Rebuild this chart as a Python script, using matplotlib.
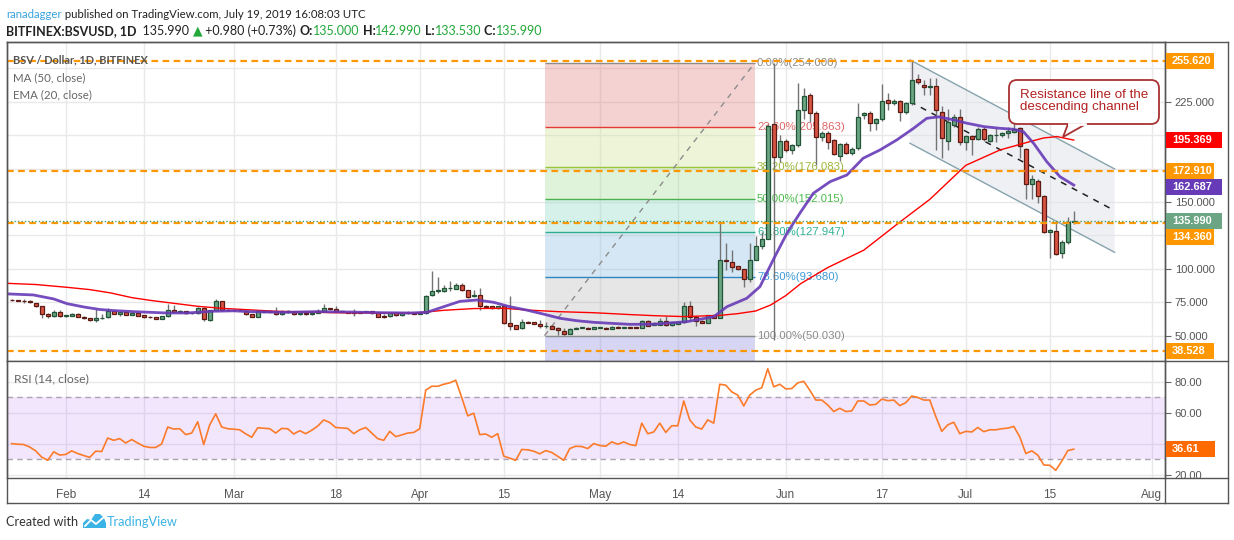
import matplotlib
matplotlib.use('Agg')
import matplotlib.pyplot as plt
from matplotlib.patches import Rectangle, FancyBboxPatch, Polygon
from matplotlib.lines import Line2D
from matplotlib.transforms import IdentityTransform

# ---------------- data (day index: 0 = 2019-02-01) ----------------
start_day = -9
opens = [
    77.0, 76.5, 76.2, 75.8, 74.2, 72.0, 66.3, 64.5, 67.5,
    64.8, 64.8, 66.5, 64.0, 63.2, 61.5, 63.0, 63.8, 68.3, 66.5,
    67.5, 65.8, 67.0, 65.2, 64.2, 63.8, 62.8, 64.5, 69.3, 67.8,
    68.3, 66.8, 66.8, 70.5, 61.5, 69.0, 75.8, 69.3, 69.0, 69.1,
    68.3, 66.2, 64.2, 68.0, 68.0, 68.0, 66.0, 67.8, 67.5, 66.0,
    67.0, 66.0, 67.0, 68.5, 70.2, 70.2, 68.2, 67.5, 67.3, 67.3,
    67.5, 68.3, 66.8, 64.5, 64.5, 67.0, 65.3, 66.8, 66.9, 66.3,
    66.8, 80.2, 83.8, 83.2, 85.5, 85.2, 87.9, 84.0, 79.5, 80.5,
    72.2, 72.0, 70.5, 72.2, 59.5, 57.7, 55.5, 60.2, 60.0, 59.0,
    57.0, 57.5, 56.0, 53.2, 51.3, 55.0, 56.0, 56.0, 55.0, 56.0,
    56.0, 55.0, 56.8, 56.0, 56.5, 56.5, 55.8, 61.2, 58.0, 58.2,
    60.7, 57.8, 59.0, 60.0, 72.0, 64.3, 61.2, 59.8, 65.2, 63.5,
    106.4, 104.8, 101.8, 99.6, 92.8, 107.0, 117.0, 122.7, 208.7, 183.5,
    196.0, 189.0, 192.7, 218.8, 230.2, 216.5, 198.5, 202.0, 196.5, 184.5,
    193.5, 187.0, 190.3, 215.5, 216.3, 209.0, 212.2, 226.3, 224.0, 225.5,
    217.5, 224.0, 241.9, 237.6, 236.4, 237.1, 217.5, 195.7, 207.7, 214.0,
    195.2, 199.5, 197.5, 204.5, 195.7, 200.0, 200.0, 202.0, 202.3, 205.2,
    189.5, 163.5, 166.0, 154.8, 127.6, 128.6, 111.7, 120.4, 135.0,
]
highs = [
    77.8, 77.0, 77.5, 76.5, 74.8, 72.3, 66.8, 69.0, 69.0,
    65.8, 67.0, 67.0, 64.5, 63.5, 70.0, 66.0, 71.0, 68.8, 67.8,
    67.8, 67.3, 67.3, 65.5, 64.5, 64.0, 64.8, 74.0, 73.0, 69.0,
    68.8, 67.8, 71.5, 71.2, 69.5, 77.5, 76.3, 70.0, 69.5, 69.8,
    68.8, 66.5, 68.8, 68.8, 68.5, 71.5, 69.5, 69.5, 67.8, 67.3,
    67.3, 67.3, 70.0, 74.0, 71.0, 72.0, 68.6, 68.0, 70.0, 67.6,
    68.6, 68.6, 67.0, 66.0, 67.3, 67.3, 67.3, 68.7, 67.2, 67.5,
    80.5, 98.4, 94.0, 88.0, 91.0, 89.5, 89.5, 84.5, 84.0, 86.0,
    73.0, 72.5, 72.4, 72.8, 79.7, 58.2, 62.5, 61.0, 60.4, 61.5,
    60.0, 58.0, 56.5, 56.0, 55.8, 56.5, 56.6, 56.4, 56.8, 56.6,
    56.3, 57.0, 57.2, 56.6, 56.8, 56.8, 61.8, 61.6, 60.0, 63.5,
    64.5, 60.5, 60.4, 75.0, 76.0, 64.8, 61.6, 65.8, 65.6, 136.1,
    119.6, 114.0, 102.5, 100.2, 119.2, 124.6, 127.8, 208.5, 254.0, 200.2,
    197.5, 193.5, 238.8, 235.6, 232.0, 218.0, 203.0, 203.0, 197.5, 194.0,
    195.0, 191.5, 224.0, 217.5, 218.0, 213.0, 238.0, 232.0, 227.0, 226.5,
    225.0, 255.6, 246.0, 241.5, 243.0, 243.0, 222.0, 219.5, 216.0, 219.4,
    200.5, 200.0, 206.5, 206.5, 201.0, 205.2, 202.5, 206.0, 215.0, 206.0,
    190.5, 170.5, 167.5, 155.5, 130.0, 134.2, 121.5, 138.8, 142.99,
]
lows = [
    76.0, 75.8, 74.8, 74.8, 71.8, 63.5, 63.0, 64.0, 64.0,
    64.2, 64.5, 63.8, 62.8, 61.2, 60.0, 62.5, 63.5, 66.2, 65.0,
    65.5, 65.5, 64.8, 63.5, 63.5, 62.5, 62.5, 64.2, 67.5, 67.5,
    66.5, 66.5, 66.5, 61.0, 61.0, 68.5, 68.5, 68.5, 68.5, 68.6,
    65.8, 64.0, 64.0, 67.5, 67.5, 65.8, 65.8, 67.3, 65.8, 65.8,
    65.8, 65.8, 66.8, 68.3, 69.5, 68.3, 67.8, 67.0, 65.0, 66.7,
    67.3, 66.5, 63.8, 63.5, 64.3, 65.0, 65.0, 66.5, 66.0, 66.0,
    66.5, 79.5, 82.0, 82.8, 83.5, 84.8, 83.3, 78.2, 79.0, 69.5,
    71.2, 70.2, 70.2, 59.0, 54.0, 54.8, 55.2, 59.5, 58.8, 55.5,
    55.5, 55.0, 50.5, 50.5, 51.0, 54.8, 55.6, 54.8, 54.8, 55.7,
    54.8, 54.8, 55.8, 55.7, 55.8, 55.8, 55.5, 57.2, 57.8, 58.0,
    57.5, 57.5, 58.8, 59.8, 61.0, 57.0, 59.5, 59.5, 63.2, 63.2,
    99.0, 97.9, 99.0, 86.2, 90.4, 106.5, 115.0, 122.0, 47.0, 180.0,
    187.5, 186.0, 191.5, 212.0, 210.0, 177.8, 196.0, 190.0, 185.0, 181.0,
    186.0, 185.5, 189.0, 212.0, 203.0, 204.0, 211.0, 219.0, 222.5, 210.5,
    216.0, 223.0, 238.5, 230.2, 230.0, 189.0, 182.8, 189.0, 206.0, 193.0,
    189.0, 185.3, 196.5, 196.0, 195.0, 195.2, 198.5, 198.0, 201.5, 182.8,
    152.1, 152.0, 149.0, 127.0, 108.0, 110.5, 108.3, 118.5, 133.53,
]
closes = [
    76.5, 76.0, 75.8, 75.0, 72.0, 66.0, 64.5, 67.5, 64.5,
    65.3, 66.5, 64.0, 63.0, 61.5, 63.0, 63.3, 68.3, 66.5, 67.5,
    65.8, 67.0, 65.0, 63.8, 63.8, 62.8, 64.5, 69.3, 67.8, 68.3,
    66.8, 67.2, 71.0, 62.3, 69.0, 75.8, 69.0, 69.0, 69.1, 69.0,
    66.0, 64.2, 68.3, 68.2, 67.8, 66.0, 67.5, 68.0, 66.0, 67.0,
    66.0, 67.0, 68.7, 70.7, 70.0, 68.5, 68.0, 67.3, 67.0, 67.0,
    68.3, 66.8, 64.2, 64.3, 67.0, 65.3, 67.0, 66.9, 66.3, 67.0,
    79.5, 83.2, 84.2, 85.5, 85.8, 87.7, 84.3, 78.7, 80.5, 72.0,
    71.8, 70.5, 72.0, 59.3, 57.5, 55.0, 60.2, 59.8, 59.0, 57.0,
    57.5, 55.3, 54.5, 51.3, 55.3, 56.0, 56.2, 55.0, 56.5, 56.2,
    55.0, 56.8, 56.0, 56.2, 56.0, 56.0, 61.2, 57.5, 59.5, 60.7,
    57.8, 60.0, 60.0, 72.0, 64.3, 61.2, 59.8, 65.2, 63.5, 106.4,
    105.6, 101.1, 99.6, 92.8, 106.4, 117.0, 122.7, 206.7, 183.5, 196.0,
    189.0, 192.5, 218.8, 229.4, 216.5, 198.5, 202.0, 195.2, 186.0, 193.3,
    187.0, 190.0, 214.0, 216.3, 209.5, 212.2, 225.5, 224.0, 225.5, 217.5,
    224.0, 241.4, 239.7, 236.1, 236.9, 218.9, 197.7, 209.7, 214.0, 195.2,
    199.5, 197.0, 204.5, 197.0, 200.0, 200.5, 201.6, 203.0, 205.0, 192.0,
    163.5, 167.0, 154.6, 127.8, 129.1, 111.2, 119.9, 135.0, 135.99,
]

ma50_days = [-9.8, -5, 0, 4, 7.5, 11, 14, 17, 22, 26, 30, 35, 40, 45, 52, 58, 63, 68, 73, 77,
             82, 88, 94, 98, 103, 109, 112, 115, 117.5, 120, 122.5, 127, 133, 139, 144, 150,
             155.7, 161.3, 163, 165.2, 168]
ma50_vals = [89.2, 88.3, 86.3, 84.5, 82.0, 78.5, 76.5, 74.8, 72.0, 70.5, 69.5, 68.3, 67.7, 67.2,
             67.0, 66.8, 69.0, 70.3, 70.5, 69.2, 68.0, 67.2, 65.8, 65.0, 64.3, 65.2, 66.5, 68.5,
             73.0, 80.0, 89.0, 101.0, 114.0, 135.0, 152.0, 177.5, 189.0, 196.0, 198.0, 199.0, 196.4]

ema20_days = [-9.8, -5.4, -2, 0.2, 3, 5.7, 8, 11.3, 16.8, 20.2, 24.6, 28, 30.7, 36.3, 41.8, 47.4,
              52.9, 57.4, 60.2, 63, 65.7, 68.5, 71.3, 74, 76.8, 79.6, 82.4, 85.2, 88, 90.7, 94,
              98, 103.5, 108, 110.2, 113.5, 115.7, 117.9, 120.2, 122.4, 124.6, 127.4, 130.2,
              132.9, 135.7, 138.5, 141.3, 143.5, 145.5, 148, 150.2, 153, 155.7, 157.9, 159.6,
              161.3, 163.5, 165.7, 168]
ema20_vals = [81.3, 80.5, 77.5, 74.0, 71.5, 69.6, 68.8, 68.0, 67.0, 67.0, 68.3, 68.6, 68.0, 67.5,
              68.0, 67.7, 67.2, 67.0, 67.5, 71.7, 75.7, 76.7, 75.0, 71.7, 69.2, 66.2, 63.0, 61.2,
              60.0, 59.3, 58.5, 58.6, 60.5, 64.2, 71.7, 78.0, 86.7, 106.7, 126.7, 142.0, 156.6,
              165.3, 170.3, 182.8, 189.0, 196.5, 205.2, 212.7, 213.8, 211.5, 209.0, 206.5, 205.2,
              204.5, 202.7, 194.0, 180.2, 169.0, 162.7]

rsi_vals = [
    40.2, 39.8, 39.6, 38.0, 35.5, 31.5, 29.4, 34.9, 32.8,
    33.2, 35.5, 33.8, 32.5, 31.3, 35.3, 35.1, 43.8, 42.3, 43.4,
    40.6, 42.8, 40.6, 38.5, 37.7, 37.7, 40.0, 50.9, 49.6, 49.8,
    46.0, 47.0, 54.3, 39.6, 52.3, 59.4, 50.9, 49.8, 49.5, 49.1,
    46.5, 44.3, 50.4, 50.1, 49.8, 47.0, 50.0, 49.8, 46.4, 48.5,
    46.6, 48.8, 51.5, 55.5, 53.8, 50.6, 50.3, 50.0, 46.6, 49.1,
    50.6, 47.0, 43.4, 42.3, 48.1, 44.7, 45.8, 47.0, 47.4, 49.8,
    74.7, 77.2, 77.2, 78.5, 79.4, 81.1, 70.0, 58.1, 59.8, 46.0,
    46.4, 44.3, 46.6, 32.1, 30.8, 29.4, 36.4, 36.2, 35.3, 33.6,
    35.7, 34.5, 32.0, 29.4, 37.0, 38.5, 38.3, 37.0, 40.2, 39.0,
    38.5, 41.3, 39.8, 41.3, 39.6, 38.9, 53.4, 46.6, 47.7, 53.4,
    47.4, 51.7, 51.7, 67.7, 55.5, 50.9, 49.6, 55.5, 53.4, 78.5,
    77.9, 73.6, 71.5, 64.5, 71.5, 74.7, 76.2, 88.5, 76.8, 78.5,
    75.5, 75.7, 79.4, 80.4, 74.7, 68.3, 68.3, 65.1, 60.9, 63.0,
    60.9, 61.3, 67.7, 67.7, 65.1, 65.5, 68.9, 67.9, 68.3, 64.7,
    66.6, 70.9, 70.0, 68.3, 68.3, 57.7, 48.1, 52.3, 54.0, 46.6,
    48.1, 47.7, 50.6, 47.9, 49.1, 49.1, 49.8, 50.2, 51.3, 44.5,
    33.8, 35.5, 32.8, 26.4, 26.2, 23.0, 28.9, 35.7, 36.61,
]

tick_days = [0, 13, 28, 45, 59, 73, 89, 102, 120, 136, 150, 164, 181]
tick_labels = ['Feb', '14', 'Mar', '18', 'Apr', '15', 'May', '14', 'Jun', '17', 'Jul', '15', 'Aug']
price_ticks = [50, 75, 100, 125, 150, 175, 200, 225, 250]
rsi_ticks = [20, 40, 60, 80]

fib_levels = [254.0, 205.863, 176.083, 152.015, 127.947, 93.68, 50.03]
fib_names = ['0.00%', '23.60%', '38.20%', '50.00%', '61.80%', '78.60%', '100.00%']
fib_start, fib_end = 79.8, 114.8

hlines_orange = [255.62, 172.91, 134.36, 38.528]
last_close = 135.99
ma50_last, ema20_last = 195.369, 162.687
rsi_last = 36.61

chan_x = [140.7, 174.8]
chan_upper = [256.4, 174.8]
chan_lower = [194.0, 112.4]

days = list(range(start_day, start_day + len(opens)))

# ---------------- figure ----------------
W, H = 1234, 540
fig = plt.figure(figsize=(W / 100, H / 100), dpi=100)
fig.patch.set_facecolor('white')
IT = IdentityTransform()

L, R, T, MB, RB = 7, 1165, 42, 361, 478
ax = fig.add_axes([L / W, 1 - MB / H, (R - L) / W, (MB - T) / H])
axr = fig.add_axes([L / W, 1 - RB / H, (R - L) / W, (RB - MB) / H])

XMIN, XMAX = -9.78, 183.2
for a in (ax, axr):
    a.set_xlim(XMIN, XMAX)
    a.set_xticks(tick_days)
    a.grid(True, color='#e9e9e9', lw=1)
    a.set_axisbelow(True)
    a.tick_params(axis='x', length=0)
    a.yaxis.tick_right()
    a.tick_params(axis='y', length=4, color='#666', labelcolor='#555', labelsize=8, pad=3)
    for s in a.spines.values():
        s.set_color('#555555')
        s.set_linewidth(1.0)

ax.set_ylim(31.06, 269.8)
axr.set_ylim(18.0, 93.5)
ax.set_xticklabels([])
axr.set_xticklabels(tick_labels, color='#555', fontsize=8.5, family='Liberation Sans')
axr.tick_params(axis='x', pad=8)
ax.set_yticks(price_ticks)
axr.set_yticks(rsi_ticks)


def tint(hexc, a):
    hexc = hexc.lstrip('#')
    t = [int(hexc[i:i + 2], 16) for i in (0, 2, 4)]
    base = [max(0, min(255, 255 - (255 - c) / a)) / 255 for c in t]
    return (base[0], base[1], base[2], a)


# ---------------- fib retracement ----------------
fib_fill = ['#f4d2d2', '#eef5d8', '#e0f3da', '#d6f1ea', '#d5e8f4', '#e6e6e6']
fib_line = ['#8c8c8c', '#e53935', '#9bc53d', '#4caf50', '#2fae8f', '#2e86c1', '#8c8c8c']
fib_txt = ['#8c8c8c', '#e06666', '#9ab83a', '#4cbb4c', '#2fb396', '#3d9ad6', '#8c8c8c']
for i in range(len(fib_levels) - 1):
    ax.add_patch(Rectangle((fib_start, fib_levels[i + 1]), fib_end - fib_start,
                           fib_levels[i] - fib_levels[i + 1], fc=tint(fib_fill[i], 0.35),
                           ec='none', zorder=1))
ax.add_patch(Rectangle((fib_start, 20), fib_end - fib_start, fib_levels[-1] - 20,
                       fc=tint('#d6d6f4', 0.35), ec='none', zorder=1))
for lvl, nm, lc, tc in zip(fib_levels, fib_names, fib_line, fib_txt):
    ax.hlines(lvl, fib_start, fib_end, color=lc, lw=1, zorder=1.5)
    ax.text(fib_end + 0.4, lvl, f'{nm}({lvl:.3f})', color=tc, fontsize=8.2,
            family='Liberation Sans', va='center', ha='left', zorder=2)
ax.plot([fib_start, fib_end], [fib_levels[-1], fib_levels[0]], color='#8c8c8c',
        lw=1, ls=(0, (4, 4)), zorder=1.6)

# ---------------- channel ----------------
ax.add_patch(Polygon([(chan_x[0], chan_upper[0]), (chan_x[1], chan_upper[1]),
                      (chan_x[1], chan_lower[1]), (chan_x[0], chan_lower[0])],
                     closed=True, fc=tint('#eff1f4', 0.5), ec='none', zorder=1))
ax.plot(chan_x, chan_upper, color='#86a3ad', lw=1, zorder=2)
ax.plot(chan_x, chan_lower, color='#86a3ad', lw=1, zorder=2)
ax.plot(chan_x, [(u + l) / 2 for u, l in zip(chan_upper, chan_lower)], color='#222222',
        lw=1.1, ls=(0, (4, 4)), zorder=2)

# ---------------- candles ----------------
up = [c >= o for o, c in zip(opens, closes)]
bottoms = [min(o, c) for o, c in zip(opens, closes)]
heights = [max(abs(c - o), 0.45) for o, c in zip(opens, closes)]
faces = ['#6ba583' if u else '#d75442' for u in up]
edges = ['#225437' if u else '#5b1a13' for u in up]
ax.vlines(days, lows, highs, color='#737375', lw=1, zorder=3)
ax.bar(days, heights, bottom=bottoms, width=0.7, color=faces, edgecolor=edges,
       linewidth=0.9, zorder=4)

ax.plot(ma50_days, ma50_vals, color='#ff0000', lw=1, zorder=5)
ax.plot(ema20_days, ema20_vals, color='#673ab7', lw=2, zorder=5, alpha=0.9)

for v in hlines_orange:
    ax.axhline(v, color='#ff9800', lw=1.6, ls=(0, (3, 2)), zorder=6)
ax.axhline(last_close, color='#4a9d6b', lw=1, ls=(0, (1, 1.5)), zorder=6)

# ---------------- RSI ----------------
axr.axhspan(30, 70, color=(0.6, 0.2, 0.95), alpha=0.12, lw=0, zorder=1)
for v in (30, 70):
    axr.axhline(v, color='#aaa3b0', lw=1, ls=(0, (4, 3)), zorder=2)
axr.plot(days, rsi_vals, color='#fb7b2a', lw=1.2, zorder=3)

# ---------------- frame lines ----------------
def pline(x0, y0, x1, y1, c='#555555', lw=1.0):
    fig.add_artist(Line2D([x0, x1], [H - y0, H - y1], transform=IT, color=c, lw=lw))

pline(L, T, 1228, T)
pline(1228, T, 1228, 503)
pline(L, 503, 1228, 503)
pline(L, T, L, 503)
pline(R, T, R, 503)
pline(R, MB, 1228, MB)
pline(R, RB, 1228, RB)

# ---------------- price labels (stacked like the price scale does) ----------------
BOX_H = 16
main_labels = [
    (255.62, '255.620', '#ff9800', 48),
    (ma50_vals[-1], f'{ma50_last:.3f}', '#ff0000', 56),
    (172.91, '172.910', '#ff9800', 48),
    (ema20_last, f'{ema20_last:.3f}', '#673ab7', 56),
    (last_close, f'{last_close:.3f}', '#6ba583', 56),
    (134.36, '134.360', '#ff9800', 48),
    (38.528, '38.528', '#ff9800', 48),
]


def draw_label(yd, text, fc, w):
    fig.add_artist(Rectangle((R + 1, yd - BOX_H / 2), w, BOX_H, transform=IT, fc=fc,
                             ec='none', zorder=20))
    fig.text((R + 7) / W, yd / H, text, color='white', fontsize=7.9, fontweight='bold',
             family='Liberation Sans', va='center', ha='left', zorder=21)


box_ys = []
prev_y = None
for val, text, fc, w in main_labels:
    yd = ax.transData.transform((0, val))[1]
    if prev_y is not None and prev_y - yd < BOX_H:
        yd = prev_y - BOX_H
    draw_label(yd, text, fc, w)
    box_ys.append(yd)
    prev_y = yd

rsi_box_y = axr.transData.transform((0, rsi_last))[1]
draw_label(rsi_box_y, f'{rsi_last:.2f}', '#ff6a00', 49)


def tick_texts(a, ticks, fmt, covers):
    out = []
    for v in ticks:
        yd = a.transData.transform((0, v))[1]
        hidden = any(abs(yd - c) < BOX_H / 2 + 5 for c in covers)
        out.append('' if hidden else fmt.format(v))
    return out


ax.set_yticklabels(tick_texts(ax, price_ticks, '{:.3f}', box_ys), family='Liberation Sans')
axr.set_yticklabels(tick_texts(axr, rsi_ticks, '{:.2f}', [rsi_box_y]), family='Liberation Sans')

# ---------------- callout ----------------
bx0, by0, bx1, by1 = 1009, 80, 1159, 124
dark_red = '#a83232'
fig.add_artist(FancyBboxPatch((bx0, H - by1), bx1 - bx0, by1 - by0,
                              boxstyle='round,pad=0,rounding_size=8', transform=IT,
                              fc='white', ec=dark_red, lw=1.3, zorder=10))
tail = [(1068, H - by1), (1063, H - 137), (1086, H - by1)]
fig.add_artist(Polygon(tail, closed=False, transform=IT, fc='white', ec=dark_red, lw=1.3, zorder=11))
fig.add_artist(Line2D([1069, 1085], [H - by1, H - by1], transform=IT, color='white', lw=2, zorder=12))
fig.text(1020 / W, 1 - 101 / H, 'Resistance line of the\ndescending channel', color='#b22222',
         fontsize=9.6, family='Liberation Sans', va='center', ha='left', linespacing=1.0, zorder=13)

# ---------------- texts ----------------
UI = ['Lato', 'DejaVu Sans']
ax.text(0.005, 1 - (60 - T) / (MB - T), 'BSV / Dollar, 1D, BITFINEX', transform=ax.transAxes,
        color='#555', fontsize=7.9, fontweight='bold', family=UI, va='center', zorder=8)
ax.text(0.005, 1 - (78 - T) / (MB - T), 'MA (50, close)', transform=ax.transAxes,
        color='#666', fontsize=8.3, family=UI, va='center', zorder=8)
ax.text(0.005, 1 - (95 - T) / (MB - T), 'EMA (20, close)', transform=ax.transAxes,
        color='#666', fontsize=8.3, family=UI, va='center', zorder=8)
axr.text(0.006, 1 - (379 - MB) / (RB - MB), 'RSI (14, close)', transform=axr.transAxes,
         color='#666', fontsize=8.8, family=UI, va='center', zorder=8)


def chain(parts, x, y, size):
    prev = None
    for txt, color, weight in parts:
        fam = UI if txt != '▲' else ['DejaVu Sans']
        if prev is None:
            prev = fig.text(x / W, 1 - y / H, txt, color=color, fontsize=size, fontweight=weight,
                            family=fam, va='bottom', ha='left')
        else:
            prev = ax.annotate(txt, xy=(1, 0), xycoords=prev, color=color, fontsize=size,
                               fontweight=weight, family=fam, va='bottom', ha='left',
                               annotation_clip=False)

G = '#22a83a'
chain([('ranadagger', '#3aa3dc', 'normal'),
       (' published on TradingView.com, July 19, 2019 16:08:03 UTC', '#222', 'normal')], 6, 20, 8.2)
chain([('BITFINEX:BSVUSD, 1D', '#222', 'bold'), ('  135.990 ', '#222', 'normal'),
       ('▲', G, 'normal'), (' +0.980 (+0.73%) ', '#222', 'normal'),
       ('O:', '#222', 'bold'), ('135.000', G, 'normal'), (' H:', '#222', 'bold'),
       ('142.990', G, 'normal'), (' L:', '#222', 'bold'), ('133.530', G, 'normal'),
       (' C:', '#222', 'bold'), ('135.990', G, 'normal')], 6, 37, 9.0)

fig.text(6 / W, 1 - 522 / H, 'Created with', color='#333', fontsize=9.1, family=UI,
         va='center', ha='left')
logo = [(83, 528), (83, 523), (87, 519), (91, 520), (95, 514), (100, 514), (104, 518),
        (106, 523), (106, 528)]
fig.add_artist(Polygon([(px, H - py) for px, py in logo], closed=True, transform=IT,
                       fc='#3bb3e4', ec='none'))
fig.add_artist(Line2D([85, 91, 96, 104], [H - 526, H - 520, H - 524, H - 517], transform=IT,
                      color='white', lw=1.3))
fig.text(107 / W, 1 - 522 / H, 'TradingView', color='#3bb3e4', fontsize=9.2, family=UI,
         va='center', ha='left')

fig.savefig('out.png', dpi=100)
